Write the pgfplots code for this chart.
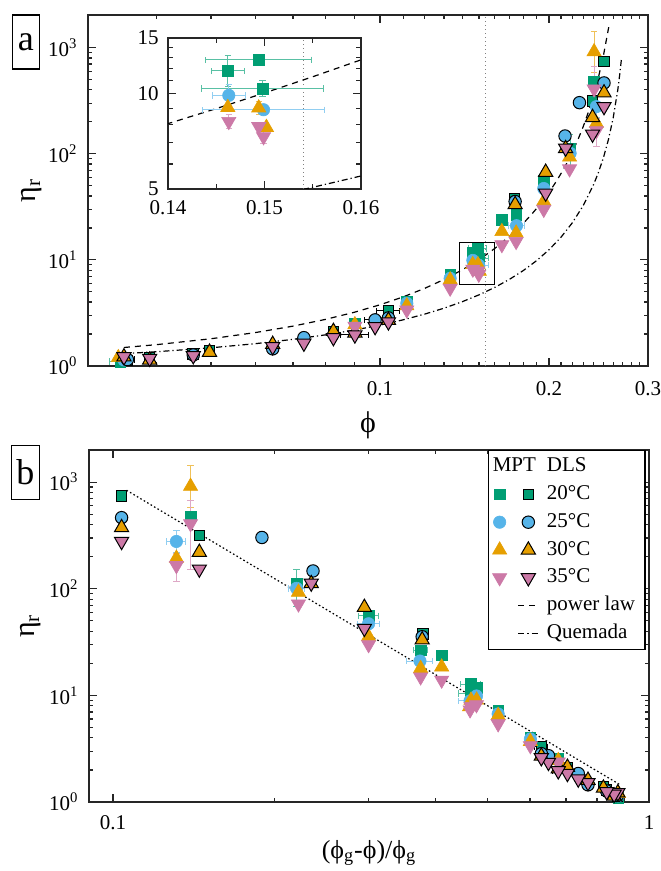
\documentclass[border=0pt]{standalone}
\usepackage{fontspec}
\setmainfont{Liberation Serif}
\usepackage{pgfplots}
\usepackage{pgfplotstable}
\pgfplotsset{compat=1.18}
\definecolor{cgreen}{RGB}{0,158,115}
\definecolor{cblue}{RGB}{86,180,233}
\definecolor{corange}{RGB}{230,159,0}
\definecolor{cpink}{RGB}{204,121,167}
\newcommand{\ph}{ϕ}

\pgfplotstableread{
phi eta ex eyp eym
0.0345 1.10 0.0015 0 0
0.0902 2.53 0 0 0
0.1116 4.04 0 0 0
0.1333 7.22 0 0 0
0.1462 11.8 0.0017 1.4 1.25
0.1494 12.79 0.0055 0.5 0.5
0.1498 10.38 0.0063 0.6 0.6
0.1648 23.8 0 0 0
0.1747 26.6 0.003 0 0
0.1957 55.8 0.0035 0 0
0.2180 113 0 40 45
0.2405 478 0 0 0
}\mptA
\pgfplotstableread{
phi eta ex eyp eym
0.0350 1.14 0 0 0
0.1116 3.90 0 0 0
0.1333 6.70 0 0 0
0.1463 9.88 0.0017 0.8 0.7
0.1499 8.90 0.0063 0 0
0.1750 21.0 0.006 0 0
0.1957 47.0 0.004 0 0
0.2180 101 0.002 0 0
0.2428 278 0.0015 75 60
}\mptB
\pgfplotstableread{
phi eta ex eyp eym
0.0342 1.20 0 0 0
0.0902 2.45 0 0 0
0.1116 3.70 0 0 0
0.1333 6.48 0 0 0
0.1462 9.05 0 0 0
0.1494 9.02 0 0.4 0.4
0.1502 7.83 0 0 0
0.1648 18.5 0 0 0
0.1747 17.9 0 0 0
0.1957 35.7 0 0 0
0.2175 93 0 0 0
0.2405 915 0 510 330
0.2428 194 0 0 0
}\mptC
\pgfplotstableread{
phi eta ex eyp eym
0.0902 2.37 0 0 0
0.1116 3.37 0 0 0
0.1333 5.41 0 0 0
0.1463 8.17 0 0.4 0.4
0.1494 7.87 0 0 0
0.1499 7.31 0 0.35 0.35
0.1648 13.9 0 0 0
0.1747 14.9 0 0 0
0.1957 29.9 0 0 0
0.2175 72 0 0 0
0.2405 408 0 260 255
0.2428 165 0 50 48
}\mptD
\pgfplotstableread{
phi eta ex eyp eym
0.0355 1.13 0 0 0
0.0389 1.20 0 0 0
0.0465 1.30 0 0 0
0.0497 1.40 0 0 0
0.0826 2.11 0 0 0
0.1035 3.30 0.005 0 0
0.1735 37.5 0 0 0
0.2390 316 0 0 0
0.2505 740 0 0 0
}\dlsA
\pgfplotstableread{
phi eta ex eyp eym
0.0355 1.15 0.001 0 0
0.0465 1.27 0 0.1 0.1
0.0644 1.45 0 0 0
0.0732 1.85 0 0 0
0.0980 2.72 0.004 0 0
0.1035 2.84 0 0 0
0.1740 35.5 0 0 0
0.2135 147 0 0 0
0.2265 303 0 0 0
0.2505 465 0 0 0
}\dlsB
\pgfplotstableread{
phi eta ex eyp eym
0.0350 1.22 0 0 0
0.0389 1.14 0 0 0
0.0497 1.35 0 0 0
0.0644 1.60 0 0 0
0.0826 2.12 0 0 0
0.0902 2.05 0 0 0
0.1035 2.70 0 0 0
0.1740 33.2 0 0 0
0.1972 67 0 0 0
0.2140 112 0 0 0
0.2390 220 0 0 0
0.2505 375 0 0 0
}\dlsC
\pgfplotstableread{
phi eta ex eyp eym
0.0350 1.22 0 0 0
0.0389 1.18 0 0 0
0.0465 1.25 0 0.12 0.12
0.0644 1.52 0 0 0
0.0732 1.64 0 0 0
0.0826 1.85 0 0 0
0.0902 1.96 0.005 0 0
0.0980 2.35 0 0 0
0.1035 2.60 0 0 0
0.1972 42.5 0 0 0
0.2140 113 0 0 0
0.2390 153 0 0 0
0.2505 278 0 0 0
}\dlsD

\pgfplotsset{
  every axis/.append style={axis line style={line width=0.7pt, black!85}, every tick/.style={line width=0.6pt, black!85}},
  every tick label/.append style={font=\fontsize{10.5}{12}\selectfont},
  eb/.style={/pgfplots/error bars/x dir=both, /pgfplots/error bars/x explicit,
     /pgfplots/error bars/y dir=both, /pgfplots/error bars/y explicit,
     /pgfplots/error bars/error bar style={color=#1, line width=0.5pt},
     /pgfplots/error bars/error mark options={rotate=90, mark size=1.6pt, line width=0.5pt, color=#1}},
  mpt/.style n args={3}{only marks, mark=#2, mark size=#3, mark options={draw=#1, fill=#1, line width=0.3pt}, eb=#1!65!white},
  mptdown/.style n args={2}{only marks, mark=triangle*, mark size=#2, mark options={draw=#1, fill=#1, line width=0.3pt, rotate=180}, eb=#1!65!white},
  dls/.style n args={3}{only marks, mark=#2, mark size=#3, mark options={draw=black, fill=#1, line width=0.5pt}, eb=black},
  dlsdown/.style n args={2}{only marks, mark=triangle*, mark size=#2, mark options={draw=black, fill=#1, line width=0.5pt, rotate=180}, eb=black},
  plstyle/.style={black, line width=0.6pt, dash pattern=on 3pt off 2.5pt},
  qmstyle/.style={black, line width=0.6pt, dash pattern=on 3pt off 1.5pt on 0.6pt off 1.5pt},
  legend image code/.code={\draw[mark repeat=2,mark phase=2,#1] plot coordinates {(0pt,0pt) (5pt,0pt) (10pt,0pt)};},
}

\begin{document}
\begin{tikzpicture}
\useasboundingbox (0,0) rectangle (330pt,435.5pt);

% ---------------- panel a ----------------
\begin{axis}[name=A, at={(44pt,252.5pt)}, anchor=south west, scale only axis,
  width=280pt, height=175.5pt, xmode=log, ymode=log,
  xmin=0.0302, xmax=0.3, ymin=1, ymax=2030,
  xtick={0.1,0.2,0.3}, xticklabels={0.1,0.2,0.3},
  minor xtick={0.04,0.05,0.06,0.07,0.08,0.09,0.11,0.12,0.13,0.14,0.15,0.16,0.17,0.18,0.19,0.21,0.22,0.23,0.24,0.25,0.26,0.27,0.28,0.29},
  ytick={1,10,100,1000}, yticklabels={10\textsuperscript{0},10\textsuperscript{1},10\textsuperscript{2},10\textsuperscript{3}},
  minor ytick={2,3,4,5,6,7,8,9,20,30,40,50,60,70,80,90,200,300,400,500,600,700,800,900},
  tick align=inside, major tick length=4pt, minor tick length=2.2pt,
  xticklabel style={inner ysep=0pt, yshift=-7.8pt},
  yticklabel style={inner xsep=5pt},
  xlabel={\ph}, ylabel={η\textsubscript{r}},
  xlabel style={at={(axis description cs:0.5,-0.168)}, anchor=center, font=\fontsize{15}{17}\selectfont},
  ylabel style={at={(axis description cs:-0.1,0.5)}, anchor=center, font=\fontsize{15}{17}\selectfont},
]
\addplot[gray, line width=0.5pt, dash pattern=on 0.6pt off 1.4pt] coordinates {(0.154,1) (0.154,2030)};
\addplot[plstyle] coordinates {(0.035,1.494)(0.04,1.589)(0.05,1.806)(0.06,2.065)(0.07,2.375)(0.08,2.750)(0.09,3.209)(0.10,3.775)(0.11,4.484)(0.12,5.381)(0.13,6.535)(0.14,8.043)(0.145,8.974)(0.15,10.054)(0.155,11.314)(0.16,12.795)(0.17,16.63)(0.18,22.17)(0.185,25.87)(0.19,30.46)(0.195,36.19)(0.20,43.45)(0.205,52.80)(0.21,65.04)(0.215,81.37)(0.22,103.7)(0.225,134.9)(0.23,180.0)(0.235,247.8)(0.24,354.3)(0.245,531.8)(0.25,850.4)(0.2555,1579)};
\addplot[qmstyle] coordinates {(0.035,1.307)(0.04,1.363)(0.05,1.484)(0.06,1.623)(0.07,1.782)(0.08,1.966)(0.09,2.179)(0.10,2.429)(0.11,2.725)(0.12,3.079)(0.13,3.506)(0.14,4.029)(0.15,4.678)(0.16,5.497)(0.17,6.552)(0.18,7.942)(0.19,9.827)(0.20,12.47)(0.21,16.35)(0.22,22.36)(0.23,32.42)(0.24,51.18)(0.245,67.3)(0.25,92.56)(0.255,135.1)(0.26,215.6)(0.265,397.1)(0.2675,588.5)(0.269,778.5)};
\addplot[mpt={cgreen}{square*}{2.65pt}] table[x=phi,y=eta,x error=ex,y error plus=eyp,y error minus=eym]{\mptA};
\addplot[dls={cgreen}{square*}{2.65pt}] table[x=phi,y=eta,x error=ex,y error plus=eyp,y error minus=eym]{\dlsA};
\addplot[mpt={cblue}{*}{3.1pt}] table[x=phi,y=eta,x error=ex,y error plus=eyp,y error minus=eym]{\mptB};
\addplot[dls={cblue}{*}{3.1pt}] table[x=phi,y=eta,x error=ex,y error plus=eyp,y error minus=eym]{\dlsB};
\addplot[mpt={corange}{triangle*}{4.1pt}] table[x=phi,y=eta,x error=ex,y error plus=eyp,y error minus=eym]{\mptC};
\addplot[dls={corange}{triangle*}{4.1pt}] table[x=phi,y=eta,x error=ex,y error plus=eyp,y error minus=eym]{\dlsC};
\addplot[mptdown={cpink}{4.1pt}] table[x=phi,y=eta,x error=ex,y error plus=eyp,y error minus=eym]{\mptD};
\addplot[dlsdown={cpink}{4.1pt}] table[x=phi,y=eta,x error=ex,y error plus=eyp,y error minus=eym]{\dlsD};
\addplot[black, line width=0.6pt] coordinates {(0.1385,5.9) (0.16,5.9) (0.16,14.7) (0.1385,14.7) (0.1385,5.9)};
\node[anchor=north, inner sep=0pt, font=\fontsize{10.5}{12}\selectfont] at (axis cs:0.154,1) [yshift=-15pt] {\ph\textsubscript{crit}};
\end{axis}

% ---------------- inset ----------------
\begin{axis}[at={(84pt,341pt)}, anchor=south west, scale only axis,
  width=96.5pt, height=75.5pt, ymode=log,
  xmin=0.14, xmax=0.16, ymin=5, ymax=15,
  axis background/.style={fill=white},
  scaled x ticks=false,
  xtick={0.14,0.15,0.16}, xticklabels={0.14,0.15,0.16}, minor xtick={0.145,0.155},
  ytick={5,10,15}, yticklabels={5,10,15}, minor ytick={6,7,8,9,11,12,13,14},
  tick align=inside, major tick length=4pt, minor tick length=2.5pt,
  xticklabel style={inner ysep=0pt, yshift=-5.5pt},
  yticklabel style={inner xsep=4.5pt},
]
\addplot[gray, line width=0.5pt, dash pattern=on 0.6pt off 1.4pt] coordinates {(0.154,5) (0.154,15)};
\addplot[plstyle] coordinates {(0.13,6.535)(0.14,8.043)(0.145,8.974)(0.15,10.054)(0.155,11.314)(0.16,12.795)(0.17,16.63)};
\addplot[qmstyle] coordinates {(0.15,4.678)(0.154,4.982)(0.155,5.0625)(0.1575,5.273)(0.16,5.497)(0.17,6.552)};
\addplot[restrict x to domain=0.139:0.161, mpt={cgreen}{square*}{2.65pt}] table[x=phi,y=eta,x error=ex,y error plus=eyp,y error minus=eym]{\mptA};
\addplot[restrict x to domain=0.139:0.161, mpt={cblue}{*}{3.1pt}] table[x=phi,y=eta,x error=ex,y error plus=eyp,y error minus=eym]{\mptB};
\addplot[restrict x to domain=0.139:0.161, mpt={corange}{triangle*}{4.1pt}] table[x=phi,y=eta,x error=ex,y error plus=eyp,y error minus=eym]{\mptC};
\addplot[restrict x to domain=0.139:0.161, mptdown={cpink}{4.1pt}] table[x=phi,y=eta,x error=ex,y error plus=eyp,y error minus=eym]{\mptD};
\node[anchor=north, inner sep=0pt, font=\fontsize{10.5}{12}\selectfont] at (axis cs:0.154,5) [yshift=-13pt] {\ph\textsubscript{crit}};
\end{axis}

% ---------------- panel b ----------------
\begin{axis}[name=B, at={(44.5pt,34.5pt)}, anchor=south west, scale only axis,
  width=280pt, height=176pt, xmode=log, ymode=log,
  xmin=0.0902, xmax=1, ymin=1, ymax=2005,
  xtick={0.1,1}, xticklabels={0.1,1},
  minor xtick={0.2,0.3,0.4,0.5,0.6,0.7,0.8,0.9},
  ytick={1,10,100,1000}, yticklabels={10\textsuperscript{0},10\textsuperscript{1},10\textsuperscript{2},10\textsuperscript{3}},
  minor ytick={2,3,4,5,6,7,8,9,20,30,40,50,60,70,80,90,200,300,400,500,600,700,800,900},
  tick align=inside, major tick length=4pt, minor tick length=2.2pt,
  xticklabel style={inner ysep=0pt, yshift=-6.5pt},
  yticklabel style={inner xsep=5pt},
  xlabel={(\ph\textsubscript{g}-\ph)/\ph\textsubscript{g}}, ylabel={η\textsubscript{r}},
  xlabel style={at={(axis description cs:0.5,-0.145)}, anchor=center, font=\fontsize{13}{16}\selectfont},
  ylabel style={at={(axis description cs:-0.1036,0.5)}, anchor=center, font=\fontsize{15}{17}\selectfont},
  legend columns=2, legend cell align=left,
  legend style={at={(1,1)}, anchor=north east, xshift=-1.7pt, draw=black, line width=0.6pt, fill=white,
    font=\fontsize{10.5}{12}\selectfont, inner xsep=0.5pt, inner ysep=2pt, row sep=1.9pt,
    nodes={inner xsep=1pt, inner ysep=1pt, text height=7.6pt, text depth=2.4pt},
    /tikz/every odd column/.append style={column sep=3pt},
    /tikz/every even column/.append style={column sep=0.5pt}},
]
\addlegendimage{empty legend}\addlegendentry{}
\addlegendimage{empty legend}\addlegendentry{\llap{MPT\hspace{5.5pt}}DLS}
\addplot[black, line width=0.6pt, dash pattern=on 0.8pt off 1.2pt, forget plot] coordinates {(0.106,839.6) (0.88,1.467)};
\addplot[mpt={cgreen}{square*}{2.65pt}] table[x expr={(0.2795-\thisrow{phi})/0.2795},y=eta,x error expr={\thisrow{ex}/0.2795},y error plus=eyp,y error minus=eym]{\mptA};
\addlegendentry{}
\addplot[dls={cgreen}{square*}{2.65pt}] table[x expr={(0.2795-\thisrow{phi})/0.2795},y=eta,x error expr={\thisrow{ex}/0.2795},y error plus=eyp,y error minus=eym]{\dlsA};
\addlegendentry{20°C}
\addplot[mpt={cblue}{*}{3.1pt}] table[x expr={(0.2795-\thisrow{phi})/0.2795},y=eta,x error expr={\thisrow{ex}/0.2795},y error plus=eyp,y error minus=eym]{\mptB};
\addlegendentry{}
\addplot[dls={cblue}{*}{3.1pt}] table[x expr={(0.2795-\thisrow{phi})/0.2795},y=eta,x error expr={\thisrow{ex}/0.2795},y error plus=eyp,y error minus=eym]{\dlsB};
\addlegendentry{25°C}
\addplot[mpt={corange}{triangle*}{4.1pt}] table[x expr={(0.2795-\thisrow{phi})/0.2795},y=eta,x error expr={\thisrow{ex}/0.2795},y error plus=eyp,y error minus=eym]{\mptC};
\addlegendentry{}
\addplot[dls={corange}{triangle*}{4.1pt}] table[x expr={(0.2795-\thisrow{phi})/0.2795},y=eta,x error expr={\thisrow{ex}/0.2795},y error plus=eyp,y error minus=eym]{\dlsC};
\addlegendentry{30°C}
\addplot[mptdown={cpink}{4.1pt}] table[x expr={(0.2795-\thisrow{phi})/0.2795},y=eta,x error expr={\thisrow{ex}/0.2795},y error plus=eyp,y error minus=eym]{\mptD};
\addlegendentry{}
\addplot[dlsdown={cpink}{4.1pt}] table[x expr={(0.2795-\thisrow{phi})/0.2795},y=eta,x error expr={\thisrow{ex}/0.2795},y error plus=eyp,y error minus=eym]{\dlsD};
\addlegendentry{35°C}
\addlegendimage{empty legend}\addlegendentry{}
\addlegendimage{plstyle}\addlegendentry{power law\rule{3.5pt}{0pt}}
\addlegendimage{empty legend}\addlegendentry{}
\addlegendimage{qmstyle}\addlegendentry{Quemada}
\end{axis}

\node[draw, line width=0.6pt, minimum width=13.5pt, minimum height=27pt, inner sep=0pt, font=\fontsize{18}{20}\selectfont] at (12.95pt,414.5pt) {a};
\node[draw, line width=0.6pt, minimum width=14pt, minimum height=27pt, inner sep=0pt, font=\fontsize{18}{20}\selectfont] at (12.65pt,199.3pt) {b};
\end{tikzpicture}
\end{document}
